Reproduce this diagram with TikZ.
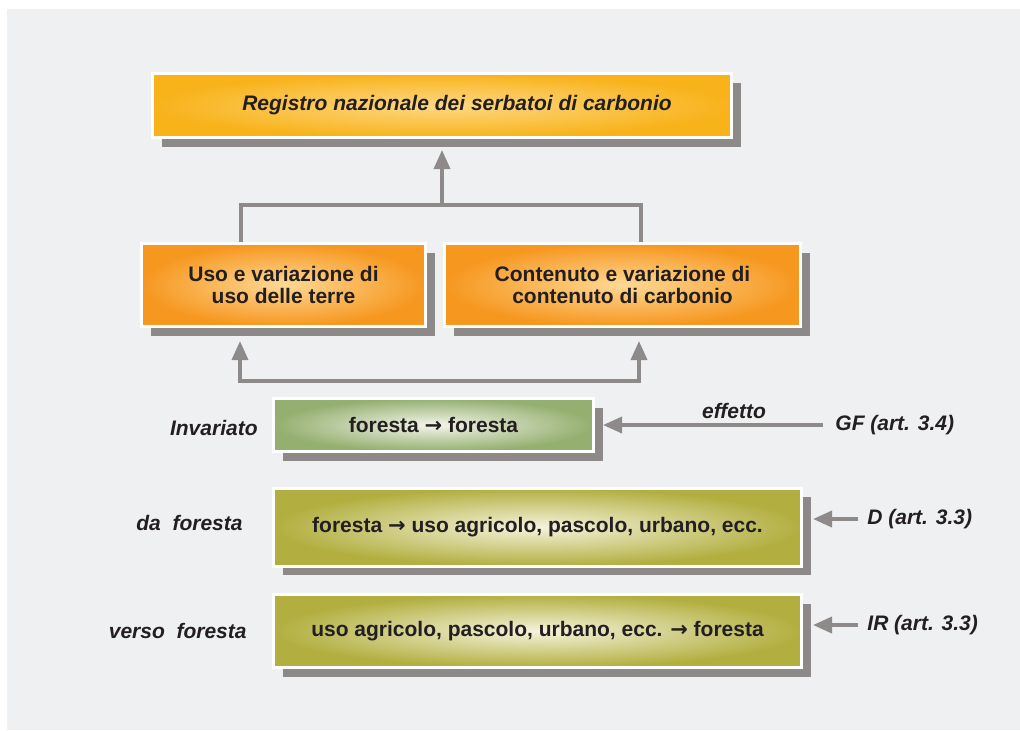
\documentclass[tikz,border=0pt]{standalone}
\usepackage{fontspec}
\setmainfont{Liberation Sans}
\newfontfamily\arrowfont{DejaVu Sans}
\definecolor{panelgray}{RGB}{239, 240, 242}
\definecolor{shadowgray}{RGB}{141, 137, 136}
\definecolor{linkgray}{RGB}{142, 138, 137}
\definecolor{inkdark}{RGB}{35, 31, 32}
\definecolor{regyellow}{RGB}{248, 179, 27}
\definecolor{regyellowlight}{RGB}{254, 216, 132}
\definecolor{usoorange}{RGB}{246, 151, 31}
\definecolor{usoorangelight}{RGB}{255, 216, 148}
\definecolor{boscogreen}{RGB}{148, 175, 111}
\definecolor{boscolight}{RGB}{243, 245, 234}
\definecolor{campoolive}{RGB}{178, 175, 64}
\definecolor{campolight}{RGB}{245, 243, 220}
\usetikzlibrary{positioning, arrows.meta, shadows}
\newcommand{\verso}{{\arrowfont\bfseries →}}

\begin{document}
\begin{tikzpicture}[x=0.5pt, y=-0.5pt,
    every node/.style={font=\fontsize{10.5}{11}\selectfont\bfseries, text=inkdark},
    box/.style={draw=white, line width=1.5pt, align=center,
      drop shadow={shadow xshift=4.5pt, shadow yshift=-4.5pt, fill=shadowgray, opacity=1}},
    side/.style={font=\fontsize{10.5}{11}\selectfont\bfseries\itshape, inner sep=0pt},
    link/.style={draw=linkgray, line width=1.8pt},
    tip/.style={-{Triangle[width=8pt, length=9.5pt]}},
    tips/.style={{Triangle[width=8pt, length=9.5pt]}-{Triangle[width=8pt, length=9.5pt]}}]
        \useasboundingbox (0, 0) rectangle (1020, 730);
        % Panel
        \fill[panelgray] (7, 9) rectangle (1020, 730);
        % Registro box
        \node[box, minimum width=289.5pt, minimum height=32pt, inner color=regyellowlight, outer color=regyellow,
          font=\fontsize{10.5}{11}\selectfont\bfseries\itshape] (reg) at (442, 105.5) {\hspace*{15pt}Registro nazionale dei serbatoi di carbonio};
        % Middle boxes
        \node[box, minimum width=142pt, minimum height=41.5pt, inner color=usoorangelight, outer color=usoorange] (uso) at (283.5, 285) {Uso e variazione di\\uso delle terre};
        \node[box, minimum width=178pt, minimum height=41.5pt, inner color=usoorangelight, outer color=usoorange] (cont) at (622.5, 285) {Contenuto e variazione di\\contenuto di carbonio};
        % Land use boxes
        \node[box, minimum width=160pt, minimum height=26.5pt, inner color=boscolight, outer color=boscogreen] (inv) at (433.5, 425) {foresta \verso{} foresta};
        \node[box, minimum width=264pt, minimum height=39pt, inner color=campolight, outer color=campoolive] (daf) at (537.5, 527) {foresta \verso{} uso agricolo, pascolo, urbano, ecc.};
        \node[box, minimum width=264pt, minimum height=36.5pt, inner color=campolight, outer color=campoolive] (vers) at (537.5, 631) {uso agricolo, pascolo, urbano, ecc. \verso{} foresta};
        % Left labels
        \node[side, anchor=east] (invl) at (258, 428) {Invariato};
        \node[side, anchor=east] (dafl) at (243, 523) {da~ foresta};
        \node[side, anchor=east] (versl) at (247, 631) {verso~ foresta};
        % Right labels
        \node[side] (eff) at (734, 411) {effetto};
        \node[side, anchor=west] (gf) at (835, 425) {GF (art. 3.4)};
        \node[side, anchor=west] (dart) at (867, 519) {D (art. 3.3)};
        \node[side, anchor=west] (irart) at (867, 625) {IR (art. 3.3)};
        % Upper bracket
        \coordinate (join) at (442, 205);
        \coordinate (usotop) at (241, 205);
        \coordinate (conttop) at (641, 205);
        \draw[link] (uso.north -| usotop) -- (usotop) -- (conttop) -- (cont.north -| conttop);
        \draw[link, tip, shorten >=5.5pt] (join) -- (reg.south);
        % Lower bracket
        \coordinate (usofoot) at (240, 381);
        \coordinate (contfoot) at (639, 381);
        \draw[link, tips, shorten <=6.5pt, shorten >=6.5pt] (uso.south -| usofoot) -- (usofoot) -- (contfoot) -- (cont.south -| contfoot);
        % Side arrows
        \draw[link, tip, shorten <=6pt, shorten >=4pt] (gf.west) -- (gf.west -| inv.east);
        \draw[link, tip, shorten <=4.5pt, shorten >=5pt] (dart.west) -- (dart.west -| daf.east);
        \draw[link, tip, shorten <=4.5pt, shorten >=5pt] (irart.west) -- (irart.west -| vers.east);
      \end{tikzpicture}
\end{document}
